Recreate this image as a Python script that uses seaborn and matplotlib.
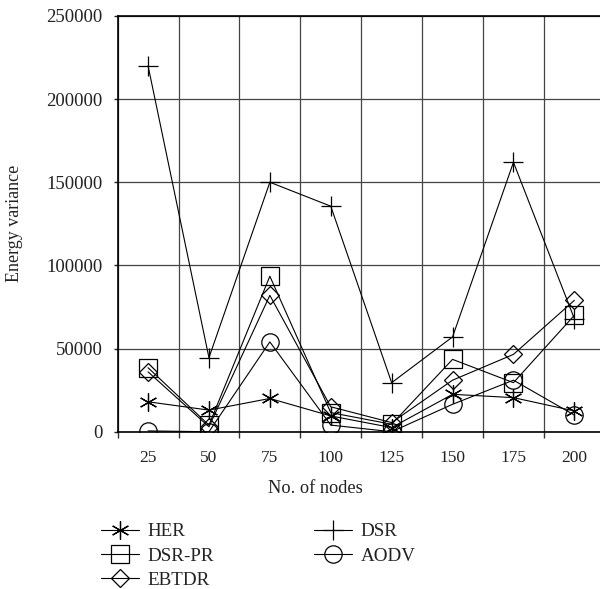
import matplotlib
matplotlib.use("Agg")
import matplotlib.pyplot as plt
import seaborn as sns
from matplotlib.ticker import FixedLocator

# ---- data ----
nodes = ["25", "50", "75", "100", "125", "150", "175", "200"]
her = [18000, 13000, 20000, 9500, 2500, 22500, 20500, 12500]
dsr = [220000, 44500, 150000, 135600, 29500, 57000, 162000, 68000]
dsr_pr = [38500, 4000, 93500, 11500, 4500, 43500, 29500, 70000]
ebtdr = [36000, 3000, 82000, 15000, 5500, 31000, 46500, 79000]
aodv = [500, 0, 54000, 4000, 0, 16500, 31000, 10000]
yticks = [0, 50000, 100000, 150000, 200000, 250000]

sns.set_theme(style="ticks")
plt.rcParams["font.family"] = ["Liberation Serif", "DejaVu Serif"]

fig = plt.figure(figsize=(6.0, 5.89), dpi=100)
ax = fig.add_axes([0.196, 0.267, 0.812, 0.706])

series = [
    ("HER", her, (6, 2, 0), 13),
    ("DSR-PR", dsr_pr, "s", 12.5),
    ("EBTDR", ebtdr, "D", 8.7),
    ("DSR", dsr, "+", 14),
    ("AODV", aodv, "o", 12.5),
]
handles = {}
for name, vals, mk, ms in series:
    sns.lineplot(x=nodes, y=vals, ax=ax, color="black", linewidth=0.8,
                 marker=mk, markersize=ms, markerfacecolor="none",
                 mec="black", mew=0.9, label=name, sort=False)
for line, (name, *_rest) in zip(ax.lines, series):
    handles[name] = line
if ax.get_legend() is not None:
    ax.get_legend().remove()

ax.set_xlim(-0.5, 7.5)
ax.set_ylim(0, 250000)
ax.set_xticks(range(len(nodes)))
ax.set_xticklabels(nodes)
ax.xaxis.set_minor_locator(FixedLocator([i + 0.5 for i in range(-1, len(nodes))]))
ax.set_yticks(yticks)
ax.set_yticklabels([str(v) for v in yticks])

ax.tick_params(axis="x", which="major", length=0, pad=13.5, labelsize=12.5, colors="#222222")
ax.tick_params(axis="x", which="minor", length=4, width=1, direction="out", color="#333333")
ax.tick_params(axis="y", which="major", length=3, width=1, direction="out", pad=8,
               labelsize=13.5, colors="#222222")

ax.grid(which="minor", axis="x", color="#444444", linewidth=0.9)
ax.grid(which="major", axis="y", color="#444444", linewidth=0.9)
ax.set_axisbelow(True)

for s in ["left", "top", "bottom"]:
    ax.spines[s].set_visible(True)
    ax.spines[s].set_color("black")
    ax.spines[s].set_linewidth(1.2)
ax.spines["right"].set_visible(False)

ax.set_xlabel("No. of nodes", fontsize=13.2, color="#222222")
ax.xaxis.set_label_coords(0.406, -0.115)
ax.set_ylabel("Energy variance", fontsize=13, color="#222222")
ax.yaxis.set_label_coords(-0.195, 0.5)

order = ["HER", "DSR-PR", "EBTDR", "DSR", "AODV"]
fig.legend([handles[n] for n in order], order, loc="upper left",
           bbox_to_anchor=(0.168, 0.112), ncol=2, frameon=False,
           fontsize=13.7, handlelength=2.0, handletextpad=0.45,
           columnspacing=5.25, labelspacing=0.36, borderpad=0,
           borderaxespad=0, labelcolor="#222222")

fig.savefig("out.png", dpi=100)
